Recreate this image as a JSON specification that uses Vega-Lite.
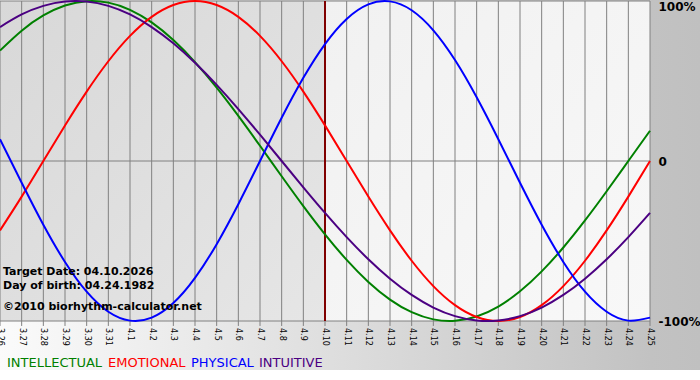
{
  "$schema": "https://vega.github.io/schema/vega-lite/v6.json",
  "width": 650,
  "height": 320,
  "autosize": {"type": "none"},
  "padding": {"left": 0, "top": 1, "right": 50, "bottom": 59},
  "background": "#ffffff",
  "config": {"view": {"stroke": null}},
  "datasets": {
    "bio": [
      {"d": 0, "date": "3.26", "INTELLECTUAL": 0.69007, "EMOTIONAL": -0.43388, "PHYSICAL": 0.13617, "INTUITIVE": 0.83717},
      {"d": 1, "date": "3.27", "INTELLECTUAL": 0.81458, "EMOTIONAL": -0.22252, "PHYSICAL": -0.13617, "INTUITIVE": 0.91577},
      {"d": 2, "date": "3.28", "INTELLECTUAL": 0.90963, "EMOTIONAL": 0, "PHYSICAL": -0.3984, "INTUITIVE": 0.9694},
      {"d": 3, "date": "3.29", "INTELLECTUAL": 0.97181, "EMOTIONAL": 0.22252, "PHYSICAL": -0.63109, "INTUITIVE": 0.99658},
      {"d": 4, "date": "3.30", "INTELLECTUAL": 0.99887, "EMOTIONAL": 0.43388, "PHYSICAL": -0.81697, "INTUITIVE": 0.99658},
      {"d": 5, "date": "3.31", "INTELLECTUAL": 0.98982, "EMOTIONAL": 0.62349, "PHYSICAL": -0.94226, "INTUITIVE": 0.9694},
      {"d": 6, "date": "4.1", "INTELLECTUAL": 0.945, "EMOTIONAL": 0.78183, "PHYSICAL": -0.99767, "INTUITIVE": 0.91577},
      {"d": 7, "date": "4.2", "INTELLECTUAL": 0.86603, "EMOTIONAL": 0.90097, "PHYSICAL": -0.97908, "INTUITIVE": 0.83717},
      {"d": 8, "date": "4.3", "INTELLECTUAL": 0.75575, "EMOTIONAL": 0.97493, "PHYSICAL": -0.88789, "INTUITIVE": 0.73572},
      {"d": 9, "date": "4.4", "INTELLECTUAL": 0.61816, "EMOTIONAL": 1, "PHYSICAL": -0.73084, "INTUITIVE": 0.61421},
      {"d": 10, "date": "4.5", "INTELLECTUAL": 0.45823, "EMOTIONAL": 0.97493, "PHYSICAL": -0.51958, "INTUITIVE": 0.47595},
      {"d": 11, "date": "4.6", "INTELLECTUAL": 0.28173, "EMOTIONAL": 0.90097, "PHYSICAL": -0.2698, "INTUITIVE": 0.3247},
      {"d": 12, "date": "4.7", "INTELLECTUAL": 0.09506, "EMOTIONAL": 0.78183, "PHYSICAL": 0, "INTUITIVE": 0.16459},
      {"d": 13, "date": "4.8", "INTELLECTUAL": -0.09506, "EMOTIONAL": 0.62349, "PHYSICAL": 0.2698, "INTUITIVE": 0},
      {"d": 14, "date": "4.9", "INTELLECTUAL": -0.28173, "EMOTIONAL": 0.43388, "PHYSICAL": 0.51958, "INTUITIVE": -0.16459},
      {"d": 15, "date": "4.10", "INTELLECTUAL": -0.45823, "EMOTIONAL": 0.22252, "PHYSICAL": 0.73084, "INTUITIVE": -0.3247},
      {"d": 16, "date": "4.11", "INTELLECTUAL": -0.61816, "EMOTIONAL": 0, "PHYSICAL": 0.88789, "INTUITIVE": -0.47595},
      {"d": 17, "date": "4.12", "INTELLECTUAL": -0.75575, "EMOTIONAL": -0.22252, "PHYSICAL": 0.97908, "INTUITIVE": -0.61421},
      {"d": 18, "date": "4.13", "INTELLECTUAL": -0.86603, "EMOTIONAL": -0.43388, "PHYSICAL": 0.99767, "INTUITIVE": -0.73572},
      {"d": 19, "date": "4.14", "INTELLECTUAL": -0.945, "EMOTIONAL": -0.62349, "PHYSICAL": 0.94226, "INTUITIVE": -0.83717},
      {"d": 20, "date": "4.15", "INTELLECTUAL": -0.98982, "EMOTIONAL": -0.78183, "PHYSICAL": 0.81697, "INTUITIVE": -0.91577},
      {"d": 21, "date": "4.16", "INTELLECTUAL": -0.99887, "EMOTIONAL": -0.90097, "PHYSICAL": 0.63109, "INTUITIVE": -0.9694},
      {"d": 22, "date": "4.17", "INTELLECTUAL": -0.97181, "EMOTIONAL": -0.97493, "PHYSICAL": 0.3984, "INTUITIVE": -0.99658},
      {"d": 23, "date": "4.18", "INTELLECTUAL": -0.90963, "EMOTIONAL": -1, "PHYSICAL": 0.13617, "INTUITIVE": -0.99658},
      {"d": 24, "date": "4.19", "INTELLECTUAL": -0.81458, "EMOTIONAL": -0.97493, "PHYSICAL": -0.13617, "INTUITIVE": -0.9694},
      {"d": 25, "date": "4.20", "INTELLECTUAL": -0.69007, "EMOTIONAL": -0.90097, "PHYSICAL": -0.3984, "INTUITIVE": -0.91577},
      {"d": 26, "date": "4.21", "INTELLECTUAL": -0.54064, "EMOTIONAL": -0.78183, "PHYSICAL": -0.63109, "INTUITIVE": -0.83717},
      {"d": 27, "date": "4.22", "INTELLECTUAL": -0.37166, "EMOTIONAL": -0.62349, "PHYSICAL": -0.81697, "INTUITIVE": -0.73572},
      {"d": 28, "date": "4.23", "INTELLECTUAL": -0.18925, "EMOTIONAL": -0.43388, "PHYSICAL": -0.94226, "INTUITIVE": -0.61421},
      {"d": 29, "date": "4.24", "INTELLECTUAL": 0, "EMOTIONAL": -0.22252, "PHYSICAL": -0.99767, "INTUITIVE": -0.47595},
      {"d": 30, "date": "4.25", "INTELLECTUAL": 0.18925, "EMOTIONAL": 0, "PHYSICAL": -0.97908, "INTUITIVE": -0.3247}
    ],
    "levels": [{"y": -1}, {"y": 0}, {"y": 1}]
  },
  "data": {"name": "bio"},
  "layer": [
    {
      "data": {"values": [{}]},
      "mark": {"type": "rect", "fill": {"gradient": "linear", "x1": 0, "y1": 0, "x2": 1, "y2": 0, "stops": [{"offset": 0, "color": "#fbfbfb"}, {"offset": 0.93, "color": "#c2c2c2"}, {"offset": 1, "color": "#c0c0c0"}]}},
      "encoding": {
        "x": {"datum": 0, "type": "quantitative", "scale": {"domain": [0, 30], "nice": false, "zero": false}, "axis": {"title": null, "labels": false, "ticks": false, "domain": false, "grid": false}},
        "x2": {"datum": 32.31},
        "y": {
          "datum": 1.02, "type": "quantitative",
          "scale": {"domain": [-1, 1], "nice": false, "zero": false},
          "axis": {
            "title": null,
            "orient": "right",
            "values": [-1, 0, 1],
            "labelExpr": "datum.value == 1 ? '100%' : datum.value == 0 ? '0' : '-100%'",
            "labelFont": "DejaVu Sans",
            "labelFontWeight": "bold",
            "labelFontSize": 12,
            "labelColor": "#000000",
            "labelPadding": 8,
            "labelFlush": false,
            "labelBaseline": {"condition": {"test": "datum.value == 1", "value": "top"}, "value": "middle"},
            "ticks": false,
            "domain": false,
            "grid": false,
            "zindex": 1
          }
        },
        "y2": {"datum": -1.306}
      }
    },
    {
      "data": {"values": [{}]},
      "mark": {"type": "rect", "fill": {"gradient": "linear", "x1": 0, "y1": 0, "x2": 1, "y2": 1, "stops": [{"offset": 0, "color": "#d8d8d8"}, {"offset": 1, "color": "#e6e6e6"}]}},
      "encoding": {
        "x": {"datum": 0, "type": "quantitative"},
        "x2": {"datum": 15},
        "y": {"datum": 1, "type": "quantitative"},
        "y2": {"datum": -1}
      }
    },
    {
      "data": {"values": [{}]},
      "mark": {"type": "rect", "fill": {"gradient": "linear", "x1": 0, "y1": 0, "x2": 1, "y2": 1, "stops": [{"offset": 0, "color": "#f1f1f1"}, {"offset": 1, "color": "#f8f8f8"}]}},
      "encoding": {
        "x": {"datum": 15, "type": "quantitative"},
        "x2": {"datum": 30},
        "y": {"datum": 1, "type": "quantitative"},
        "y2": {"datum": -1}
      }
    },
    {
      "mark": {"type": "rule", "color": "#808080", "strokeWidth": 1},
      "encoding": {
        "x": {"field": "d", "type": "quantitative"}
      }
    },
    {
      "mark": {"type": "rule", "color": "#808080", "strokeWidth": 1},
      "encoding": {
        "x": {"field": "d", "type": "quantitative"},
        "y": {"datum": -1, "type": "quantitative"},
        "y2": {"datum": -1.031}
      }
    },
    {
      "mark": {"type": "text", "angle": 90, "align": "left", "baseline": "middle", "dx": 7, "font": "DejaVu Sans", "fontSize": 8, "color": "#000000"},
      "encoding": {
        "x": {"field": "d", "type": "quantitative"},
        "y": {"datum": -1, "type": "quantitative"},
        "text": {"field": "date", "type": "nominal"}
      }
    },
    {
      "data": {"name": "levels"},
      "mark": {"type": "rule", "color": "#808080", "strokeWidth": 1},
      "encoding": {
        "y": {"field": "y", "type": "quantitative"}
      }
    },
    {
      "data": {"values": [{}]},
      "mark": {"type": "rule", "color": "#800000", "strokeWidth": 2},
      "encoding": {
        "x": {"datum": 15, "type": "quantitative"}
      }
    },
    {
      "transform": [{"fold": ["INTELLECTUAL", "EMOTIONAL", "PHYSICAL", "INTUITIVE"], "as": ["series", "value"]}],
      "mark": {"type": "line", "interpolate": "natural", "strokeWidth": 2},
      "encoding": {
        "x": {"field": "d", "type": "quantitative"},
        "y": {"field": "value", "type": "quantitative"},
        "color": {
          "field": "series", "type": "nominal",
          "scale": {"domain": ["INTELLECTUAL", "EMOTIONAL", "PHYSICAL", "INTUITIVE"], "range": ["#008000", "#ff0000", "#0000ff", "#4b0082"]},
          "legend": {
            "orient": "none",
            "legendX": 7,
            "legendY": 355,
            "direction": "horizontal",
            "title": null,
            "symbolType": "circle",
            "symbolSize": 0,
            "symbolStrokeWidth": 0,
            "symbolOpacity": 0,
            "labelOffset": -13,
            "columnPadding": 5,
            "labelFont": "DejaVu Sans",
            "labelFontSize": 13,
            "labelLimit": 300,
            "encode": {"labels": {"update": {"fill": {"scale": "color", "field": "value"}}}}
          }
        }
      }
    },
    {
      "data": {"values": [{}]},
      "mark": {"type": "text", "align": "left", "baseline": "middle", "dx": 3, "font": "DejaVu Sans", "fontWeight": "bold", "fontSize": 11, "color": "#000000"},
      "encoding": {
        "x": {"datum": 0, "type": "quantitative"},
        "y": {"datum": -0.694, "type": "quantitative"},
        "text": {"value": "Target Date: 04.10.2026"}
      }
    },
    {
      "data": {"values": [{}]},
      "mark": {"type": "text", "align": "left", "baseline": "middle", "dx": 3, "font": "DejaVu Sans", "fontWeight": "bold", "fontSize": 11, "color": "#000000"},
      "encoding": {
        "x": {"datum": 0, "type": "quantitative"},
        "y": {"datum": -0.781, "type": "quantitative"},
        "text": {"value": "Day of birth: 04.24.1982"}
      }
    },
    {
      "data": {"values": [{}]},
      "mark": {"type": "text", "align": "left", "baseline": "middle", "dx": 3, "font": "DejaVu Sans", "fontWeight": "bold", "fontSize": 11, "color": "#000000"},
      "encoding": {
        "x": {"datum": 0, "type": "quantitative"},
        "y": {"datum": -0.9125, "type": "quantitative"},
        "text": {"value": "©2010 biorhythm-calculator.net"}
      }
    }
  ]
}
